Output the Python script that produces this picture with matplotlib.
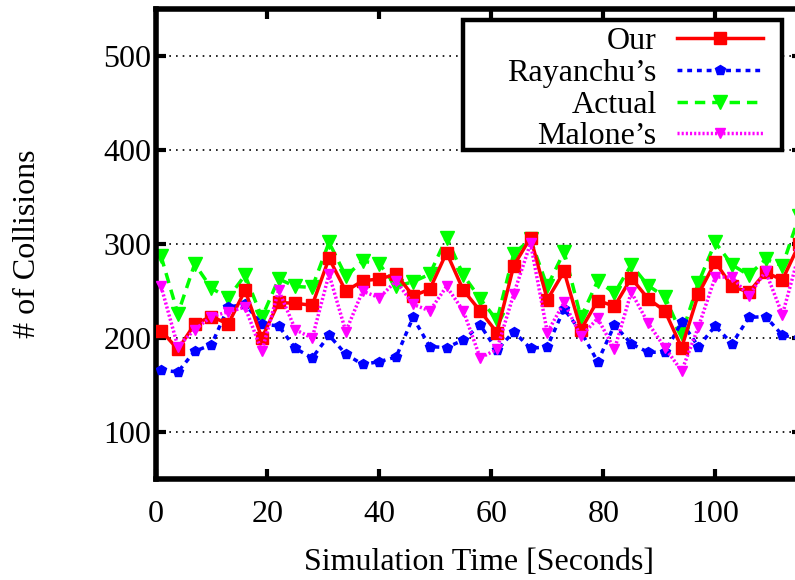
import numpy as np
import matplotlib
matplotlib.use("Agg")
import matplotlib.pyplot as plt
from matplotlib.patches import Rectangle

# simulation times (seconds)
times = [1, 4, 7, 10, 13, 16, 19, 22, 25, 28, 31, 34, 37, 40, 43, 46, 49, 52, 55, 58,
         61, 64, 67, 70, 73, 76, 79, 82, 85, 88, 91, 94, 97, 100, 103, 106, 109, 112, 115]

our = [208, 188, 215, 223, 215, 251, 200, 238, 237, 235, 285, 250, 261,
       263, 268, 245, 252, 291, 251, 229, 206, 277, 307, 241, 271,
       209, 240, 234, 264, 242, 229, 190, 247, 281, 255, 249, 270, 262, 300]

rayanchu = [166, 164, 186, 193, 233, 236, 215, 213, 189, 179, 203, 183, 172,
            175, 180, 222, 191, 190, 198, 214, 187, 207, 189, 191, 231,
            207, 175, 214, 194, 185, 185, 217, 191, 213, 194, 222, 223, 203, 200]

actual = [287, 226, 279, 253, 243, 267, 222, 263, 255, 254, 302, 266, 282,
          279, 255, 260, 268, 307, 267, 242, 219, 290, 305, 255, 292,
          222, 261, 248, 278, 256, 244, 204, 259, 302, 278, 267, 284, 277, 330]

malone = [255, 191, 209, 223, 228, 233, 186, 251, 209, 200, 268, 207, 250,
          243, 261, 236, 229, 255, 229, 179, 188, 247, 301, 206, 238,
          202, 221, 188, 249, 216, 190, 165, 212, 265, 265, 245, 271, 225, 290]

xticks = [0, 20, 40, 60, 80, 100]
yticks = [100, 200, 300, 400, 500]

FS = 23
plt.rcParams['font.family'] = ['Liberation Serif', 'DejaVu Serif']
plt.rcParams['font.size'] = FS

fig = plt.figure(figsize=(7.95, 5.8), dpi=100)
ax = fig.add_axes([0.1956, 0.174, 0.8132, 0.810])

l_our, = ax.plot(times, our, color='#ff0000', lw=2.5, marker='s', ms=8,
                 label='Our', zorder=4)
l_ray, = ax.plot(times, rayanchu, color='#0000ff', lw=2.5, ls=(0, (1.4, 1.4)),
                 marker='p', ms=7, label='Rayanchu\u2019s', zorder=3)
l_act, = ax.plot(times, actual, color='#00ff00', lw=2.5, ls=(0, (3.0, 2.0)),
                 marker='v', ms=10, label='Actual', zorder=2)
l_mal, = ax.plot(times, malone, color='#ff00ff', lw=2.5, ls=(0, (0.6, 0.6)),
                 marker='v', ms=7, label='Malone\u2019s', zorder=5)

ax.set_xlim(0, 115.5)
ax.set_ylim(50, 550)
ax.set_xticks(xticks)
ax.set_yticks(yticks)

ax.yaxis.grid(True, color='black', lw=1.2, ls=(0, (1, 3)))
ax.set_axisbelow(True)

for s in ax.spines.values():
    s.set_linewidth(4)

ax.tick_params(direction='in', top=True, right=True, length=7, width=3,
               labelsize=FS)
ax.tick_params(axis='x', pad=15)
ax.tick_params(axis='y', pad=3)

ax.set_xlabel('Simulation Time [Seconds]', fontsize=FS, labelpad=14)
ax.set_ylabel('# of Collisions', fontsize=FS, labelpad=44)

# gnuplot style key box: wider on the left than the entries need
key_box = Rectangle((0.4756, 0.700), 0.969 - 0.4756, 0.9766 - 0.700,
                    transform=ax.transAxes, facecolor='white',
                    edgecolor='black', lw=3.2, zorder=9)
ax.add_patch(key_box)

leg = ax.legend(handles=[l_our, l_ray, l_act, l_mal], loc='upper right',
                bbox_to_anchor=(0.9397, 0.962), borderaxespad=0,
                markerfirst=False, numpoints=1, handlelength=2.7,
                handletextpad=0.63, labelspacing=0.07, fontsize=FS,
                frameon=False, borderpad=0)
leg.set_zorder(10)

fig.savefig('out.png', dpi=100)
